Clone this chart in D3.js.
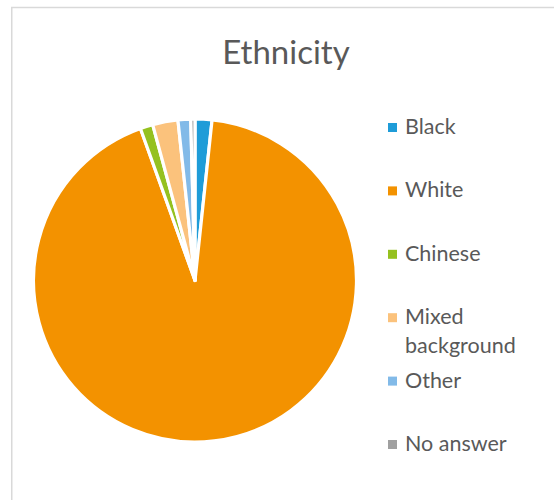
<!DOCTYPE html>
<html>
<head>
<meta charset="utf-8">
<script src="https://cdn.jsdelivr.net/npm/d3@7"></script>
<style>
  html, body { margin: 0; padding: 0; background: #fff; }
  svg { display: block; }
  text { font-family: Lato, "Open Sans", sans-serif; fill: #595959; }
</style>
</head>
<body>
<svg id="chart" width="554" height="500"></svg>
<script>
const title = "Ethnicity";
const categories = ["Black", "White", "Chinese", "Mixed background", "Other", "No answer"];
const values = [4, 220, 3, 6, 3, 1];
const colors = ["#1e9cd8", "#f39200", "#95c11f", "#fbc27c", "#82bae8", "#a0a0a0"];
const legendLines = [["Black"], ["White"], ["Chinese"], ["Mixed", "background"], ["Other"], ["No answer"]];

const svg = d3.select("#chart");

// chart border
svg.append("rect")
  .attr("x", 11.75).attr("y", 7.5)
  .attr("width", 600).attr("height", 600)
  .attr("fill", "none")
  .attr("stroke", "#d9d9d9")
  .attr("stroke-width", 1.5);

// title
svg.append("text")
  .attr("x", 286).attr("y", 64)
  .attr("text-anchor", "middle")
  .style("font-size", "33px")
  .text(title);

// pie
const cx = 195, cy = 280.5, r = 161.5;
const pie = d3.pie().sort(null).value(d => d)(values);
const arc = d3.arc().innerRadius(0).outerRadius(r);
const g = svg.append("g").attr("transform", `translate(${cx},${cy})`);
g.selectAll("path").data(pie).join("path")
  .attr("d", arc)
  .attr("fill", (d, i) => colors[i])
  .attr("stroke", "#fff")
  .attr("stroke-width", 3.2)
  .attr("stroke-linejoin", "round");

// legend
const ly = d3.scalePoint().domain(categories).range([134, 451]);
const lg = svg.append("g");
categories.forEach((c, i) => {
  const y = ly(c);
  const lines = legendLines[i];
  lg.append("rect")
    .attr("x", 388).attr("y", y - 11)
    .attr("width", 9).attr("height", 9)
    .attr("fill", colors[i]);
  const t = lg.append("text")
    .attr("x", 405).attr("y", y)
    .style("font-size", "21.5px");
  lines.forEach((ln, j) => {
    t.append("tspan").attr("x", 405).attr("dy", j === 0 ? 0 : 29).text(ln);
  });
});
</script>
</body>
</html>
